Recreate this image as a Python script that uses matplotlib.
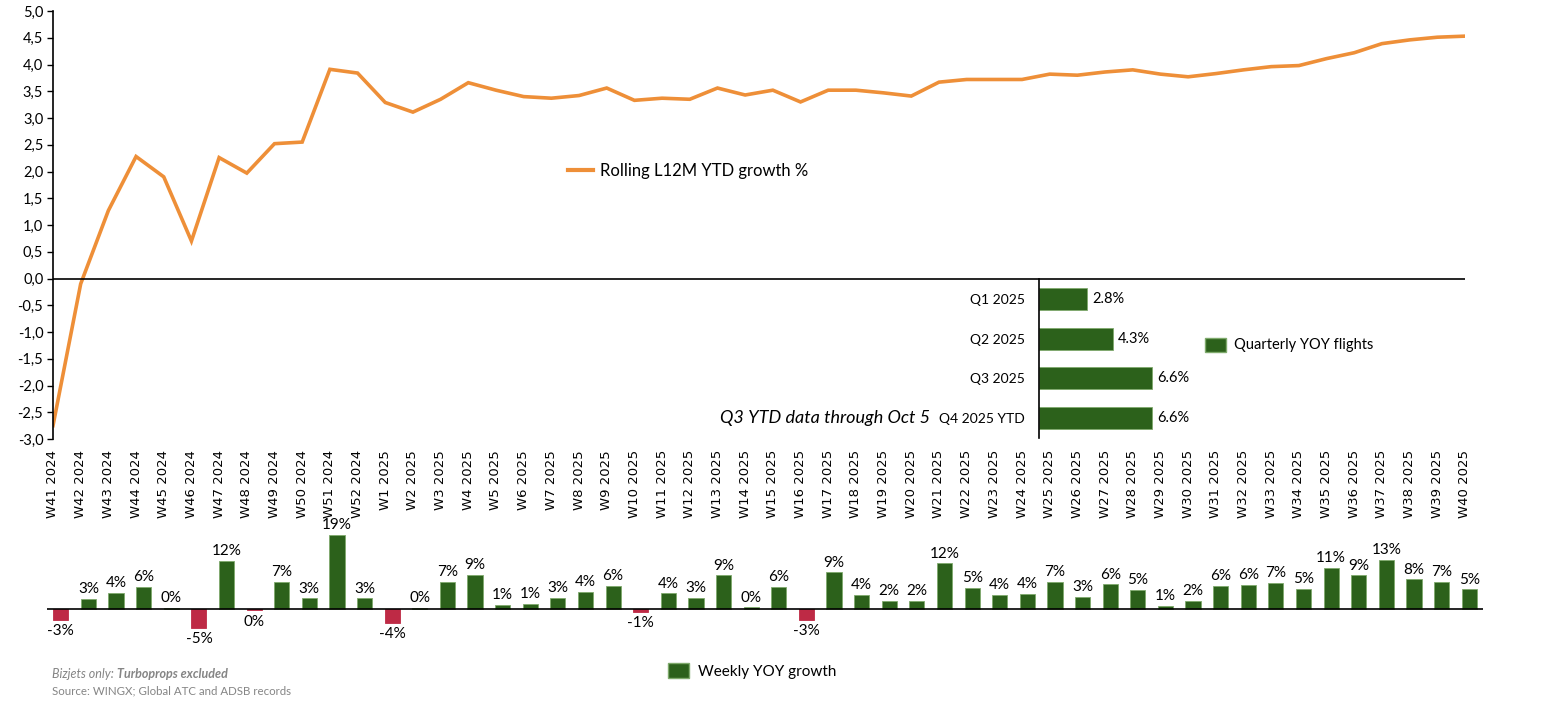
import matplotlib
matplotlib.use("Agg")
import matplotlib.pyplot as plt
from matplotlib.patches import Patch
from matplotlib.lines import Line2D

# week labels
weeks = ["W%d 2024" % w for w in range(41, 53)] + ["W%d 2025" % w for w in range(1, 41)]

# rolling L12M growth %
rolling = [-2.75, -0.10, 1.27, 2.28, 1.90, 0.70, 2.26, 1.97, 2.52, 2.55, 3.91, 3.84,
           3.29, 3.11, 3.35, 3.66, 3.52, 3.40, 3.37, 3.42, 3.56, 3.33, 3.37, 3.35,
           3.56, 3.43, 3.52, 3.30, 3.52, 3.52, 3.47, 3.41, 3.67, 3.72, 3.72, 3.72,
           3.82, 3.80, 3.86, 3.90, 3.82, 3.77, 3.83, 3.90, 3.96, 3.98, 4.11, 4.22,
           4.39, 4.46, 4.51, 4.53]

# weekly YOY growth %
weekly = [-2.8, 2.6, 4.1, 5.6, 0.3, -4.9, 12.4, -0.4, 7.0, 2.7, 19.0, 2.7,
          -3.6, 0.3, 7.0, 8.8, 1.0, 1.3, 2.8, 4.3, 5.9, -0.9, 4.0, 2.8,
          8.6, 0.4, 5.6, -2.8, 9.4, 3.6, 2.1, 2.1, 11.7, 5.4, 3.6, 3.9,
          7.0, 3.1, 6.3, 4.8, 0.8, 2.1, 5.9, 6.2, 6.7, 5.2, 10.6, 8.6,
          12.6, 7.6, 7.0, 5.0]

quarters = ["Q1 2025", "Q2 2025", "Q3 2025", "Q4 2025 YTD"]
quarterly = [2.8, 4.3, 6.6, 6.6]

ORANGE = "#EE8F38"
GREEN = "#2C611B"
EDGE = "#7FAA6C"
RED = "#BE2A45"
GREY = "#858585"

plt.rcParams["font.family"] = ["Lato", "DejaVu Sans"]

W, H = 1557, 710
fig = plt.figure(figsize=(W / 100, H / 100), dpi=100)


def box(x0, y0, x1, y1):
    return [x0 / W, 1 - y1 / H, (x1 - x0) / W, (y1 - y0) / H]


# ---- top: rolling line ----
ax = fig.add_axes(box(53, 11, 1465, 439))
x = list(range(len(weeks)))
ax.plot(x, rolling, color=ORANGE, lw=2.6, solid_joinstyle="miter")
ax.axhline(0, color="black", lw=1.2)
ax.set_xlim(0, len(weeks) - 1)
ax.set_ylim(-3, 5)
ax.set_yticks([i / 2 for i in range(-6, 11)])
ax.set_yticklabels([("%.1f" % (i / 2)).replace(".", ",") for i in range(-6, 11)], fontsize=10.5)
ax.set_xticks(x)
ax.set_xticklabels(weeks, rotation=90, fontsize=9.5, family="DejaVu Sans", va="top")
ax.tick_params(axis="x", length=0, pad=8)
ax.tick_params(axis="y", length=4, width=1, direction="out", pad=3)
for s in ["top", "right", "bottom"]:
    ax.spines[s].set_visible(False)
ax.spines["left"].set_linewidth(1.2)
fig.legend(handles=[Line2D([], [], color=ORANGE, lw=3)], labels=["Rolling L12M YTD growth %"],
           loc="center left", bbox_to_anchor=(553 / W, 1 - 171 / H), frameon=False,
           fontsize=12, handlelength=1.5, handletextpad=0.4)

# ---- inset: quarterly horizontal bars ----
axq = fig.add_axes(box(1039, 279, 1176, 438))
yq = list(range(len(quarters)))
axq.barh(yq, quarterly, height=0.55, color=GREEN, edgecolor=EDGE, lw=0.6)
axq.set_xlim(0, 8)
axq.set_ylim(len(quarters) - 0.5, -0.5)
axq.set_yticks(yq)
axq.set_yticklabels(quarters, fontsize=10)
axq.tick_params(axis="y", length=0, pad=10)
axq.set_xticks([])
axq.patch.set_alpha(0)
for s in ["top", "right", "bottom"]:
    axq.spines[s].set_visible(False)
axq.spines["left"].set_linewidth(1.2)
for yy, v in zip(yq, quarterly):
    axq.annotate("%.1f%%" % v, (v, yy), xytext=(4, 0), textcoords="offset points",
                 va="center", ha="left", fontsize=10.5)
fig.text(930 / W, 1 - 418 / H, "Q3 YTD data through Oct 5", ha="right", va="center",
         fontsize=13, style="italic")
fig.legend(handles=[Patch(facecolor=GREEN, edgecolor=EDGE)], labels=["Quarterly YOY flights"],
           loc="center left", bbox_to_anchor=(1192 / W, 1 - 345 / H), frameon=False,
           fontsize=10.5, handlelength=1.4, handleheight=1.1, handletextpad=0.6)

# ---- bottom: weekly bars ----
axb = fig.add_axes(box(47, 520, 1483, 655))
colors = [GREEN if v >= 0 else RED for v in weekly]
axb.bar(x, weekly, width=0.55, color=colors, edgecolor=[EDGE if v >= 0 else RED for v in weekly], lw=0.6)
axb.axhline(0, color="black", lw=1.2)
axb.set_xlim(-0.5, len(weeks) - 0.5)
axb.set_ylim(-11.9, 22.9)
axb.axis("off")
for xx, v in zip(x, weekly):
    if v >= 0:
        axb.annotate("%d%%" % round(v), (xx, v), xytext=(0, 2), textcoords="offset points",
                     ha="center", va="bottom", fontsize=11)
    else:
        axb.annotate("%d%%" % round(v), (xx, v), xytext=(0, -3), textcoords="offset points",
                     ha="center", va="top", fontsize=11)
fig.legend(handles=[Patch(facecolor=GREEN, edgecolor=EDGE)], labels=["Weekly YOY growth"],
           loc="center left", bbox_to_anchor=(654 / W, 1 - 671 / H), frameon=False,
           fontsize=11, handlelength=1.4, handleheight=1.1, handletextpad=0.6)

# ---- footnotes ----
t1 = fig.text(52 / W, 1 - 674 / H, "Bizjets only: ", color=GREY, fontsize=9, style="italic", va="center")
fig.canvas.draw()
bb = t1.get_window_extent()
fig.text(bb.x1 / W, 1 - 674 / H, "Turboprops excluded", color=GREY, fontsize=9,
         style="italic", weight="bold", va="center")
fig.text(52 / W, 1 - 691 / H, "Source: WINGX; Global ATC and ADSB records", color=GREY,
         fontsize=8.3, va="center")

fig.savefig("out.png", dpi=100)
